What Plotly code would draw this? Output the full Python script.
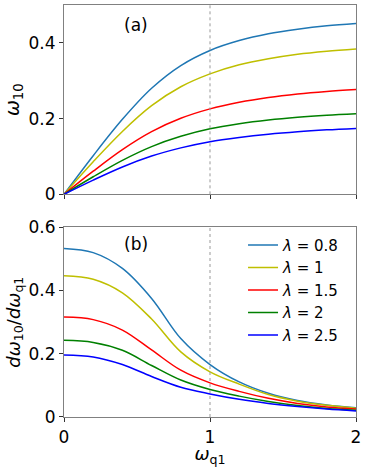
import plotly.graph_objects as go
from plotly.subplots import make_subplots

# values
wq1 = [0, 0.2, 0.4, 0.6, 0.8, 1.0, 1.2, 1.4, 1.6, 1.8, 2.0]
lambdas = ['0.8', '1', '1.5', '2', '2.5']

w10_08 = [0, 0.102, 0.198, 0.280, 0.340, 0.380, 0.406, 0.424, 0.436, 0.445, 0.451]
w10_1 = [0, 0.086, 0.166, 0.234, 0.284, 0.318, 0.342, 0.358, 0.370, 0.378, 0.384]
w10_15 = [0, 0.061, 0.118, 0.1655, 0.2007, 0.2256, 0.243, 0.2557, 0.265, 0.2718, 0.277]
w10_2 = [0, 0.0464, 0.0898, 0.1261, 0.1532, 0.173, 0.1862, 0.1961, 0.2034, 0.2089, 0.213]
w10_25 = [0, 0.0376, 0.0723, 0.101, 0.1227, 0.139, 0.1501, 0.1587, 0.1652, 0.1702, 0.174]

dw_08 = [0.533, 0.52, 0.47, 0.375, 0.248, 0.166, 0.111, 0.075, 0.052, 0.038, 0.029]
dw_1 = [0.447, 0.436, 0.393, 0.31, 0.206, 0.143, 0.104, 0.071, 0.05, 0.037, 0.028]
dw_15 = [0.316, 0.308, 0.275, 0.212, 0.148, 0.108, 0.081, 0.059, 0.043, 0.032, 0.025]
dw_2 = [0.2425, 0.236, 0.211, 0.163, 0.117, 0.087, 0.066, 0.049, 0.036, 0.027, 0.021]
dw_25 = [0.196, 0.19, 0.166, 0.128, 0.094, 0.073, 0.056, 0.043, 0.033, 0.025, 0.019]

w10_all = [w10_08, w10_1, w10_15, w10_2, w10_25]
dw_all = [dw_08, dw_1, dw_15, dw_2, dw_25]
colors = ['#1f77b4', '#bfbf00', '#ff0000', '#008000', '#0000ff']

font = 'DejaVu Sans'

fig = make_subplots(rows=2, cols=1, vertical_spacing=0.08)

for lam, w, dw, c in zip(lambdas, w10_all, dw_all, colors):
    fig.add_trace(go.Scatter(x=wq1, y=w, mode='lines', line=dict(color=c, width=1.5, shape='spline'),
                             showlegend=False), row=1, col=1)
    fig.add_trace(go.Scatter(x=wq1, y=dw, mode='lines', line=dict(color=c, width=1.5, shape='spline'),
                             name='<i>λ</i> = ' + lam), row=2, col=1)

for r in [1, 2]:
    fig.add_vline(x=1, line=dict(color='#999999', width=1, dash='dot'), row=r, col=1)

axis_style = dict(showline=True, mirror=True, linecolor='#808080', linewidth=1.2, automargin=False,
                  showgrid=False, zeroline=False, ticks='outside', ticklen=4, tickcolor='#333333',
                  tickfont=dict(family=font, size=17, color='black'))

fig.update_xaxes(range=[0, 2], tickvals=[0, 1, 2], **axis_style)
fig.update_xaxes(showticklabels=False, row=1, col=1)
fig.update_xaxes(title=dict(text='<i>ω</i><sub>q1</sub>', font=dict(family=font, size=18, color='black'), standoff=6),
                 ticktext=['0', '1', '2'], row=2, col=1)
fig.update_yaxes(**axis_style)
fig.update_yaxes(range=[0, 0.5], tickvals=[0, 0.2, 0.4], ticktext=['0', '0.2', '0.4'],
                 title=dict(text='<i>ω</i><sub>10</sub>', font=dict(family=font, size=19, color='black'), standoff=3),
                 row=1, col=1)
fig.update_yaxes(range=[0, 0.6], tickvals=[0, 0.2, 0.4, 0.6], ticktext=['0', '0.2', '0.4', '0.6'],
                 title=dict(text='<i>dω</i><sub>10</sub>/<i>dω</i><sub>q1</sub>',
                            font=dict(family=font, size=18, color='black'), standoff=3),
                 row=2, col=1)

fig.add_annotation(text='(a)', x=0.49, y=0.447, xref='x', yref='y', showarrow=False,
                   font=dict(family=font, size=17, color='black'))
fig.add_annotation(text='(b)', x=0.49, y=0.547, xref='x2', yref='y2', showarrow=False,
                   font=dict(family=font, size=17, color='black'))

fig.update_layout(width=368, height=467, plot_bgcolor='white', paper_bgcolor='white',
                  margin=dict(l=64, r=12, t=5, b=50),
                  legend=dict(x=0.959, y=0.457, xanchor='right', yanchor='top', bgcolor='rgba(0,0,0,0)',
                              font=dict(family=font, size=15, color='black'), tracegroupgap=0,
                              itemwidth=30))
fig.update_yaxes(domain=[0.5405, 1], row=1, col=1)
fig.update_yaxes(domain=[0, 0.4604], row=2, col=1)

fig.write_html("out.html", config={'displayModeBar': False},
               post_script="document.body.style.margin='0';")
